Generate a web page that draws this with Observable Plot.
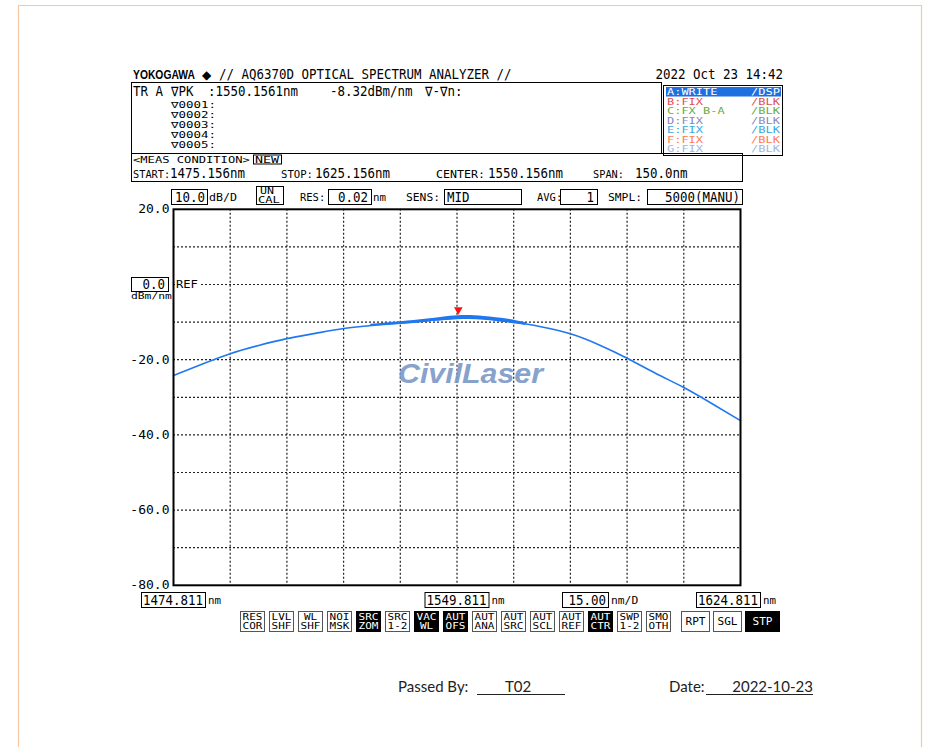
<!DOCTYPE html>
<html><head><meta charset="utf-8">
<script src="https://cdn.jsdelivr.net/npm/d3@7"></script>
<script src="https://cdn.jsdelivr.net/npm/@observablehq/plot@0.6"></script>
<style>
body{margin:0;background:#fff;}
#page{position:relative;width:941px;height:747px;overflow:hidden;background:#fff;}
#page svg{position:absolute;left:0;top:0;}
</style></head><body><div id="page"></div>
<script>
// ---- data ----
const wavelength = [1474.811, 1482.311, 1489.811, 1497.311, 1504.811, 1512.311, 1519.811, 1527.311, 1534.811, 1542.311, 1550.156, 1557.311, 1564.811, 1572.311, 1579.811, 1587.311, 1594.811, 1602.311, 1609.811, 1617.311, 1624.811];
const power = [-24.2, -21.2, -18.4, -16.2, -14.4, -13.0, -11.7, -10.9, -10.3, -9.6, -8.9, -9.0, -9.9, -11.3, -13.1, -16.0, -19.6, -23.6, -27.4, -31.7, -36.2];
const noiseWl = [1527, 1535, 1542, 1550, 1557, 1563, 1568];
const noiseHi = [-10.6, -9.9, -9.2, -8.3, -8.5, -9.2, -10.2];
const noiseLo = [-11.1, -10.6, -10.0, -9.4, -9.5, -10.2, -10.9];
const peakWl = 1550.156;
const peakPower = -8.32;
const xGrid = [1489.811, 1504.811, 1519.811, 1534.811, 1549.811, 1564.811, 1579.811, 1594.811, 1609.811];
const yGrid = [10, 0, -10, -20, -30, -40, -50, -60, -70];
const yTicks = [20, -20, -40, -60, -80];
const xLabels = [1474.811, 1549.811, 1624.811];
const markerLines = ["\u22070001:", "\u22070002:", "\u22070003:", "\u22070004:", "\u22070005:"];
const traces = ["A:WRITE", "B:FIX", "C:FX B-A", "D:FIX", "E:FIX", "F:FIX", "G:FIX"];
const traceModes = ["/DSP", "/BLK", "/BLK", "/BLK", "/BLK", "/BLK", "/BLK"];
const traceColors = ["#ffffff", "#e05050", "#6aaa3a", "#8a84c0", "#38a8e0", "#ff7a50", "#9ab8e8"];
const buttons = [["RES","COR"],["LVL","SHF"],["WL","SHF"],["NOI","MSK"],["SRC","ZOM"],["SRC","1-2"],["VAC","WL"],["AUT","OFS"],["AUT","ANA"],["AUT","SRC"],["AUT","SCL"],["AUT","REF"],["AUT","CTR"],["SWP","1-2"],["SMO","OTH"]];
const buttonsOn = ["SRCZOM", "VACWL", "AUTOFS", "AUTCTR"];
const bigButtons = ["RPT", "SGL", "STP"];

const curve = wavelength.map((w, i) => ({w, p: power[i]}));
const band = noiseWl.map((w, i) => ({w, hi: noiseHi[i], lo: noiseLo[i]}));
const MONO = "DejaVu Sans Mono";
const BLUE = "#1f78f0";

const plot = Plot.plot({
  width: 941, height: 747,
  marginLeft: 173, marginRight: 201, marginTop: 208.8, marginBottom: 162.2,
  x: {domain: [1474.811, 1624.811], axis: null},
  y: {domain: [-80, 20], axis: null},
  style: {background: "transparent", fontFamily: MONO, fontSize: "13px", overflow: "visible"},
  marks: [
    Plot.ruleX(xGrid, {x: d => d, stroke: "#222", strokeWidth: 1.2, strokeDasharray: "2,2"}),
    Plot.ruleY(yGrid, {y: d => d, stroke: "#222", strokeWidth: 1.2, strokeDasharray: "2,2"}),
    Plot.areaY(band, {x: "w", y1: "lo", y2: "hi", fill: BLUE, curve: "natural"}),
    Plot.line(curve, {x: "w", y: "p", stroke: BLUE, strokeWidth: 1.6, curve: "natural"}),
    Plot.dot([{w: peakWl, p: peakPower}], {x: "w", y: "p", symbol: "triangle", rotate: 180, r: 3.2, fill: "#ff1010", dy: -6}),
    Plot.text(yTicks, {y: d => d, text: d => d.toFixed(1), frameAnchor: "left", textAnchor: "end", dx: -4, fill: "#000"}),
    Plot.frame({stroke: "#000", strokeWidth: 2})
  ]
});
document.getElementById("page").appendChild(plot);
const xs = plot.scale("x");
const ys = plot.scale("y");

const ov = d3.select("#page").append("svg").attr("width", 941).attr("height", 747);
function txt(x, y, s, o = {}) {
  const e = ov.append("text").attr("x", x).attr("y", y).text(s)
    .attr("font-family", o.ff || MONO).attr("font-size", o.fs || 13.5)
    .attr("fill", o.fill || "#000").attr("text-anchor", o.anchor || "start");
  if (o.tl) e.attr("textLength", o.tl).attr("lengthAdjust", "spacingAndGlyphs");
  if (o.fw) e.attr("font-weight", o.fw);
  if (o.fst) e.attr("font-style", o.fst);
  return e;
}
const big = (x, y, s, anchor, fs) => txt(x, y, s, {tl: s.length * 7.5, anchor, fs});
const small = (x, y, s, o = {}) => txt(x, y, s, Object.assign({fs: 10, tl: s.length * (o.cw || 7)}, o));
function box(x, y, w, h, o = {}) {
  ov.append("rect").attr("x", x + 0.5).attr("y", y + 0.5).attr("width", w).attr("height", h)
    .attr("fill", o.fill || "none").attr("stroke", o.stroke || "#000").attr("stroke-width", o.sw || 1);
}

// page border
ov.append("path").attr("d", "M18.5,747V5.5H921.5V747").attr("fill", "none").attr("stroke", "#f4c8a2").attr("stroke-width", 1.2);

// header
ov.append("text").attr("transform", "translate(133,79) scale(0.86,1)")
  .attr("font-family", "Liberation Sans").attr("font-weight", "bold").attr("font-size", 12).text("YOKOGAWA");
txt(202, 79, "\u25C6", {ff: "DejaVu Sans", fs: 12});
big(219, 79, "// AQ6370D OPTICAL SPECTRUM ANALYZER //");
big(783, 79, "2022 Oct 23 14:42", "end");

// marker info box
box(131, 82, 530, 71);
big(133, 96, "TR A");
big(171, 96, "\u2207PK");
big(208, 96, ":1550.1561nm");
big(330, 96, "-8.32dBm/nm");
big(425, 96, "\u2207-\u2207n:");
markerLines.forEach((s, i) => txt(171, 107.6 + i * 10, s, {fs: 8.6, tl: s.length * 7.5}));

// trace box
box(663, 85, 119, 70);
ov.append("rect").attr("x", 666).attr("y", 87).attr("width", 115).attr("height", 9.5).attr("fill", "#1e6fe0");
traces.forEach((s, i) => {
  const y = 95 + i * 9.5;
  txt(667, y, s, {fs: 9.5, tl: s.length * 7.2, fill: traceColors[i]});
  txt(780, y, traceModes[i], {fs: 9.5, tl: 29, fill: traceColors[i], anchor: "end"});
});

// meas condition box
box(131, 153, 611, 28);
small(133, 162.5, "<MEAS CONDITION>", {fs: 9, cw: 7.3});
box(253, 154.5, 28, 9);
small(255, 162.5, "NEW", {fs: 9, cw: 8});
small(133, 178, "START:", {cw: 6.2});
big(170, 178, "1475.156nm");
small(281, 178, "STOP:", {cw: 6.4});
big(315, 178, "1625.156nm");
small(436, 178, "CENTER:", {cw: 7});
big(488, 178, "1550.156nm");
small(593, 178, "SPAN:", {cw: 6.2});
big(635, 178, "150.0nm");

// settings row
box(171, 189, 36, 15); big(205, 202, "10.0", "end");
small(209, 201, "dB/D");
box(256, 186, 27, 18); small(260, 194, "UN", {fs: 9, cw: 7}); small(258, 203, "CAL", {fs: 9, cw: 7.3});
small(300, 201, "RES:", {cw: 6.3});
box(328, 189, 43, 15); big(368, 202, "0.02", "end");
small(373, 201, "nm", {cw: 6.5});
small(406, 201, "SENS:", {cw: 6.8});
box(444, 189, 77, 15); big(447, 202, "MID");
small(537, 201, "AVG:", {cw: 6.3});
box(560, 189, 37, 15); big(594, 202, "1", "end");
small(608, 201, "SMPL:", {cw: 6.8});
box(647, 189, 95, 15); big(740, 202, "5000(MANU)", "end");

// REF marker
const yRef = ys.apply(0);
ov.append("rect").attr("x", 175).attr("y", yRef - 5).attr("width", 25).attr("height", 10).attr("fill", "#fff");
small(176, yRef + 4, "REF", {cw: 7.3});
box(131, yRef - 7, 37, 14); big(165, yRef + 5, "0.0", "end");
small(131, yRef + 15, "dBm/nm", {fs: 9, cw: 6.8});

// x labels
xLabels.forEach((v, i) => {
  const s = v.toFixed(3);
  const w = s.length * 7.5 + 4;
  const cx = i < 2 ? xs.apply(v) : xs.apply(v) - 12;
  box(cx - w / 2, 592, w, 15);
  big(cx + w / 2 - 2, 605, s, "end");
  small(cx + w / 2 + 3, 604, "nm", {cw: 6.5});
});
box(562, 592, 46, 15); big(606, 605, "15.00", "end");
small(611, 604, "nm/D", {cw: 6.8});

// buttons
buttons.forEach((b, i) => {
  const x = 240 + i * 29;
  const on = buttonsOn.includes(b[0] + b[1]);
  box(x, 611, 24, 20, {fill: on ? "#000" : "#fff", stroke: on ? "#000" : "#555"});
  const c = on ? "#fff" : "#000";
  txt(x + 12.5, 620, b[0], {fs: 9, fill: c, anchor: "middle", tl: b[0].length * 6.6});
  txt(x + 12.5, 629, b[1], {fs: 9, fill: c, anchor: "middle", tl: b[1].length * 6.6});
});
bigButtons.forEach((s, i) => {
  const x = [681, 713, 745][i], w = [28, 28, 34][i];
  const on = s === "STP";
  box(x, 611, w, 20, {fill: on ? "#000" : "#fff", stroke: on ? "#000" : "#555"});
  txt(x + w / 2 + 0.5, 625, s, {fs: 10, fill: on ? "#fff" : "#000", anchor: "middle", tl: 20});
});

// watermark
txt(398, 383, "CivilLaser", {ff: "Liberation Sans", fw: "bold", fst: "italic", fs: 28, tl: 145, fill: "#7b98c6"}).attr("opacity", 0.9);

// footer
const FF = "Lato";
txt(398, 692, "Passed  By:", {ff: FF, fs: 15, fill: "#222"});
ov.append("line").attr("x1", 477).attr("x2", 565).attr("y1", 694.5).attr("y2", 694.5).attr("stroke", "#222");
txt(505, 692, "T02", {ff: FF, fs: 15, fill: "#222"});
txt(669, 692, "Date:", {ff: FF, fs: 15, fill: "#222"});
ov.append("line").attr("x1", 706).attr("x2", 813).attr("y1", 694.5).attr("y2", 694.5).attr("stroke", "#222");
txt(813, 692, "2022-10-23", {ff: FF, fs: 15, fill: "#222", anchor: "end"});
</script></body></html>
